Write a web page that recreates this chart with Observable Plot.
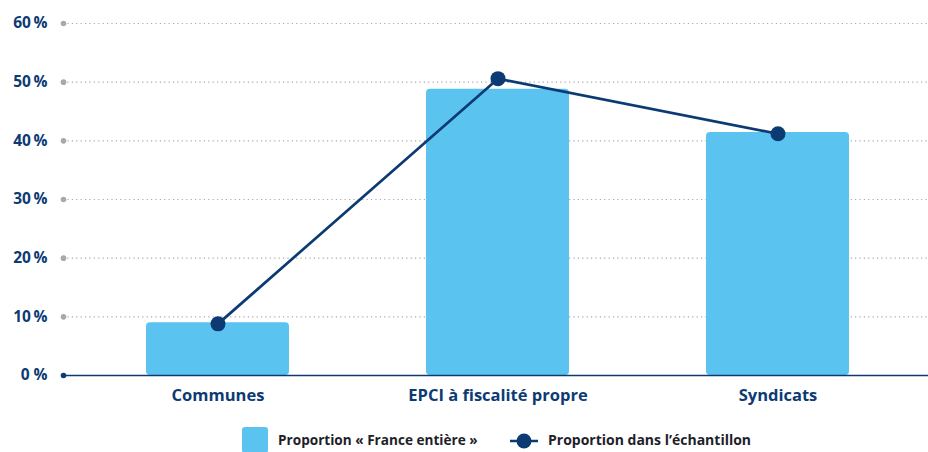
<!DOCTYPE html>
<html>
<head>
<meta charset="utf-8">
<script src="https://cdn.jsdelivr.net/npm/d3@7"></script>
<script src="https://cdn.jsdelivr.net/npm/@observablehq/plot@0.6"></script>
<style>
  html, body { margin: 0; padding: 0; background: #fff; }
  #wrap { width: 928px; height: 452px; position: relative; overflow: hidden; font-family: "Open Sans", sans-serif; }
  #legend { position: absolute; left: 0; top: 427px; width: 928px; height: 25px; }
  .lg { position: absolute; top: 0; font-size: 14px; font-weight: 700; color: #1e1e2a; line-height: 25px; white-space: nowrap; }
  .sq { position: absolute; left: 242px; top: 0; width: 26px; height: 26px; background: #5bc3f0; border-radius: 3px; }
</style>
</head>
<body>
<div id="wrap">
  <div id="chart"></div>
  <div id="legend">
    <div class="sq"></div>
    <div class="lg" style="left:278px;font-size:13.6px">Proportion « France entière »</div>
    <svg style="position:absolute;left:508px;top:4px" width="32" height="20">
      <line x1="2" y1="10" x2="30" y2="10" stroke="#0c3b74" stroke-width="2.5"></line>
      <circle cx="16" cy="10" r="7.5" fill="#0c3b74"></circle>
    </svg>
    <div class="lg" style="left:548px">Proportion dans l’échantillon</div>
  </div>
</div>
<script>
const categories = ["Communes", "EPCI à fiscalité propre", "Syndicats"];
const franceEntiere = [9.0, 48.8, 41.4];
const echantillon = [8.8, 50.6, 41.2];
const yTicks = [0, 10, 20, 30, 40, 50, 60];
const gridTicks = [10, 20, 30, 40, 50, 60];

const navy = "#0c3b74";
const blue = "#5bc3f0";

const bars = categories.map((c, i) => ({cat: c, v: franceEntiere[i]}));
const pts = categories.map((c, i) => ({cat: c, v: echantillon[i]}));

const chart = Plot.plot({
  width: 928,
  height: 422,
  marginLeft: 63,
  marginRight: -4,
  marginTop: 23,
  marginBottom: 47,
  style: {fontFamily: "'Open Sans', sans-serif", background: "transparent", overflow: "hidden"},
  x: {domain: categories, paddingInner: 0.49, paddingOuter: 0.294, label: null},
  y: {domain: [0, 60], label: null},
  marks: [
    Plot.ruleY(gridTicks, {stroke: "#a9a9a9", strokeWidth: 1.2, strokeDasharray: "1.2,3.2"}),
    Plot.barY(bars, {x: "cat", y: "v", fill: blue, rx: 4}),
    Plot.ruleY([0], {stroke: navy, strokeWidth: 1.5}),
    Plot.dot(gridTicks, {frameAnchor: "left", y: d => d, r: 2.8, fill: "#a9a9a9"}),
    Plot.dot([0], {frameAnchor: "left", y: d => d, r: 2.8, fill: navy}),
    Plot.line(pts, {x: "cat", y: "v", stroke: navy, strokeWidth: 2.7}),
    Plot.dot(pts, {x: "cat", y: "v", r: 7.5, fill: navy}),
    Plot.axisY(yTicks, {tickSize: 0, tickPadding: 16, fontSize: 15.5, fontWeight: 700, fill: navy,
      tickFormat: d => d === 0 ? "0 %" : d + "\u2009%"}),
    Plot.axisX({tickSize: 0, tickPadding: 14, fontSize: 16.5, fontWeight: 700, fill: navy})
  ]
});
document.getElementById("chart").appendChild(chart);
</script>
</body>
</html>
